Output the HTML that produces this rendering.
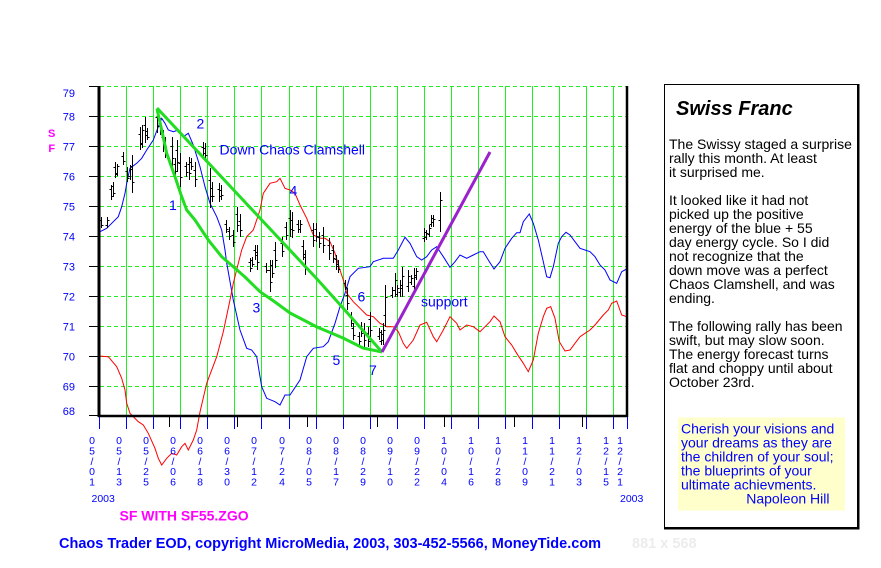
<!DOCTYPE html>
<html><head><meta charset="utf-8"><style>
html,body{margin:0;padding:0;background:#fff;}
svg{display:block;}
text{font-family:"Liberation Sans",Arial,sans-serif;}
</style></head><body>
<svg width="881" height="568" viewBox="0 0 881 568" xmlns="http://www.w3.org/2000/svg">
<rect x="0" y="0" width="881" height="568" fill="#fff"/>
<!-- horizontal dashed grid -->
<g stroke="#22ee22" stroke-width="1" stroke-dasharray="4,3">
<path d="M100 86.5H626M100 116.5H626M100 146.5H626M100 176.5H626M100 206.5H626M100 236.5H626M100 266.5H626M100 296.5H626M100 326.5H626M100 356.5H626M100 386.5H626"/>
</g>
<!-- vertical grid -->
<g stroke="#22ee22" stroke-width="1">
<path d="M126.5 86V415M153.5 86V415M180.5 86V415M207.5 86V415M234.5 86V415M261.5 86V415M289.5 86V415M316.5 86V415M343.5 86V415M370.5 86V415M397.5 86V415M424.5 86V415M451.5 86V415M478.5 86V415M505.5 86V415M532.5 86V415M559.5 86V415M586.5 86V415M613.5 86V415"/>
</g>
<!-- blue energy line -->
<polyline fill="none" stroke="#0000ff" stroke-width="1" points="100,231.7 106.7,228.3 111.7,223.3 118.3,216.7 121.7,206.7 125,193.3 127.3,180 130,168.3 136.7,163.3 141.7,158.3 146.7,150 153.3,140 158.3,126.7 161.7,118.3 165,123.3 168.3,130 173.3,131.7 178.3,130 183.3,136.7 188.3,133.3 193.3,145 200,166.7 205,186.7 210,203.3 216.7,216.7 221.7,230 225,250 226.7,263 233.3,300 240,330 246.7,348.3 251.7,350 256.7,356.7 261.7,386.7 266.7,398.3 275,401.7 280,405 285,395 290,395 300,380 306.7,356.7 313.3,348.3 323.3,346.7 328.3,341.7 335,323.3 340,306.7 345,293.3 350,276.7 358.3,268.3 370,266.7 373.3,261.7 383.3,258.3 393.3,258.3 398.3,250 405,237.3 410,243.3 416.7,256.7 421.7,260 426.7,256.7 431.7,250 436.7,246.7 443.3,256.7 450,267.3 455,261.7 460,255 466.7,258.3 473.3,255 480,251.7 483.3,251.7 488.3,260 494,269 500,261.7 505,248.3 511.7,238.3 516.7,232.7 520,232.7 523.3,221.7 529.3,214 533.3,223.3 538.3,240 543.3,261.7 546.7,276.7 550,277.7 553.3,266.7 558.3,243.3 561.7,236.7 566,232.3 570,235 575,241.7 580,248.3 585,250 590,251.7 595,256.7 600,265 605,270 610,280 616.7,283.3 621.7,271.7 626.7,269"/>
<!-- red line -->
<polyline fill="none" stroke="#ff0000" stroke-width="1" points="98.3,356 108.3,356.7 116.7,366.7 121.7,378.3 125,390 126.7,403.3 130,413.3 138.3,421.7 143.3,425 148.3,433.3 155,448.3 158.3,458.3 161.7,465 166.7,458.3 171.7,453.3 176.7,455 181.7,446.7 185,443.3 188.3,450 193.3,440 196.7,430 200,412 206.7,383.3 216.7,356.7 223.3,331.7 230,300 233.3,283.3 238.3,263.3 241.7,250 246.7,236.7 253.3,230 260,210 263.3,193.3 270,183.3 276.7,181.7 280,178.3 285,188.3 290,190 295,193.3 300,205 306.7,218.3 313.3,235 320,238.3 325,238.3 330,241.7 335,253.3 340,270 343.3,280 346.7,293.3 353.3,301.7 360,308.3 366.7,315 373.3,316.7 380,323.3 386.7,326.7 393.3,326.7 398.3,331.7 403.3,343.3 406.7,348.3 413.3,340 420,325 426.7,322.3 433.3,336.7 436.7,341.7 443.3,330 450,316.7 456.7,323.3 460,330 466.7,325 473.3,326.7 480,331.7 485,326.7 490,321.7 494,316 500,321.7 505,336.7 511.7,345 516.7,353.3 523.3,363.3 528.3,371.7 533.3,360 538.3,333.3 543.3,316.7 546.7,308.3 550.7,306.7 555,318.3 559.3,341.7 565,351 570,350 575,343.3 580,336.7 585,333.3 590,330 595,325 603.3,315 608.3,310 611.7,303.3 616.7,301 621.7,315 626.7,316.7"/>
<!-- price bars -->
<path fill="none" stroke="#000" stroke-width="1" d="
M101.5 217V228M99.5 220.5h2M101.5 225.5h2
M107.5 217V228M105.5 225.5h2M107.5 220.5h2
M111.5 185V200M109.5 189.5h2M111.5 196.5h2
M113.5 182V197M111.5 186.5h2M113.5 193.5h2
M115.5 162V178M113.5 167.5h2M115.5 173.5h2
M117.5 164V176M115.5 174.5h2M117.5 166.5h2
M123.5 152V165M121.5 156.5h2M123.5 161.5h2
M127.5 167V182M125.5 171.5h2M127.5 178.5h2
M130.5 165V180M128.5 176.5h2M130.5 169.5h2
M132.5 155V193M130.5 166.5h2M132.5 182.5h2
M140.5 127V150M138.5 134.5h2M140.5 143.5h2
M142.5 125V148M140.5 144.5h2M142.5 130.5h2
M145.5 117V143M143.5 125.5h2M145.5 135.5h2
M147.5 128V140M145.5 131.5h2M147.5 137.5h2
M157.5 110V133M155.5 117.5h2M157.5 126.5h2
M160.5 118V135M158.5 123.5h2M160.5 130.5h2
M163.5 130V152M161.5 137.5h2M163.5 145.5h2
M165.5 137V158M163.5 143.5h2M165.5 152.5h2
M172.5 137V167M170.5 146.5h2M172.5 158.5h2
M175.5 158V177M173.5 164.5h2M175.5 171.5h2
M177.5 140V172M175.5 150.5h2M177.5 162.5h2
M180.5 153V187M178.5 163.5h2M180.5 177.5h2
M186.5 162V177M184.5 166.5h2M186.5 172.5h2
M189.5 157V180M187.5 164.5h2M189.5 173.5h2
M191.5 158V170M189.5 162.5h2M191.5 166.5h2
M195.5 162V187M193.5 170.5h2M195.5 179.5h2
M203.5 142V158M201.5 147.5h2M203.5 153.5h2
M205.5 143V160M203.5 148.5h2M205.5 155.5h2
M210.5 168V208M208.5 180.5h2M210.5 196.5h2
M212.5 182V202M210.5 188.5h2M212.5 196.5h2
M219.5 183V202M217.5 189.5h2M219.5 196.5h2
M221.5 185V200M219.5 190.5h2M221.5 195.5h2
M226.5 220V233M224.5 224.5h2M226.5 229.5h2
M229.5 227V240M227.5 231.5h2M229.5 236.5h2
M233.5 230V247M231.5 235.5h2M233.5 242.5h2
M237.5 207V232M235.5 214.5h2M237.5 225.5h2
M240.5 214V237M238.5 221.5h2M240.5 230.5h2
M250.5 258V272M248.5 262.5h2M250.5 268.5h2
M252.5 257V267M250.5 260.5h2M252.5 264.5h2
M255.5 245V260M253.5 250.5h2M255.5 255.5h2
M257.5 245V270M255.5 252.5h2M257.5 262.5h2
M266.5 263V273M264.5 266.5h2M266.5 270.5h2
M270.5 260V292M268.5 270.5h2M270.5 282.5h2
M272.5 260V278M270.5 265.5h2M272.5 273.5h2
M275.5 242V268M273.5 250.5h2M275.5 260.5h2
M282.5 237V257M280.5 243.5h2M282.5 251.5h2
M286.5 222V240M284.5 227.5h2M286.5 235.5h2
M290.5 210V237M288.5 218.5h2M290.5 229.5h2
M292.5 212V238M290.5 220.5h2M292.5 230.5h2
M298.5 220V233M296.5 224.5h2M298.5 229.5h2
M300.5 220V233M298.5 229.5h2M300.5 224.5h2
M303.5 240V260M301.5 246.5h2M303.5 254.5h2
M305.5 250V275M303.5 257.5h2M305.5 268.5h2
M313.5 223V247M311.5 230.5h2M313.5 240.5h2
M316.5 223V242M314.5 229.5h2M316.5 236.5h2
M319.5 232V248M317.5 237.5h2M319.5 243.5h2
M323.5 227V253M321.5 235.5h2M323.5 245.5h2
M329.5 238V260M327.5 245.5h2M329.5 253.5h2
M333.5 245V263M331.5 250.5h2M333.5 258.5h2
M336.5 255V270M334.5 259.5h2M336.5 266.5h2
M338.5 260V273M336.5 264.5h2M338.5 269.5h2
M345.5 280V290M343.5 283.5h2M345.5 287.5h2
M347.5 288V310M345.5 295.5h2M347.5 303.5h2
M351.5 312V327M349.5 316.5h2M351.5 323.5h2
M353.5 323V340M351.5 328.5h2M353.5 335.5h2
M359.5 332V345M357.5 336.5h2M359.5 341.5h2
M361.5 322V337M359.5 326.5h2M361.5 333.5h2
M364.5 323V347M362.5 330.5h2M364.5 340.5h2
M368.5 327V347M366.5 333.5h2M368.5 341.5h2
M370.5 312V337M368.5 319.5h2M370.5 330.5h2
M379.5 328V340M377.5 336.5h2M379.5 332.5h2
M381.5 330V345M379.5 341.5h2M381.5 334.5h2
M383.5 323V345M381.5 340.5h2M383.5 330.5h2
M385.5 285V327M383.5 315.5h2M385.5 297.5h2
M392.5 287V298M390.5 295.5h2M392.5 290.5h2
M395.5 273V297M393.5 290.5h2M395.5 280.5h2
M397.5 285V297M395.5 294.5h2M397.5 288.5h2
M400.5 280V297M398.5 292.5h2M400.5 285.5h2
M402.5 267V297M400.5 288.5h2M402.5 276.5h2
M408.5 270V292M406.5 286.5h2M408.5 276.5h2
M411.5 275V285M409.5 282.5h2M411.5 278.5h2
M414.5 268V293M412.5 286.5h2M414.5 275.5h2
M416.5 268V280M414.5 277.5h2M416.5 271.5h2
M424.5 228V242M422.5 238.5h2M424.5 232.5h2
M426.5 230V240M424.5 237.5h2M426.5 233.5h2
M429.5 225V237M427.5 234.5h2M429.5 228.5h2
M431.5 215V227M429.5 224.5h2M431.5 218.5h2
M433.5 215V227M431.5 222.5h2M433.5 219.5h2
M440.5 192V232M438.5 220.5h2M440.5 200.5h2"/>
<!-- clamshell lines -->
<polyline fill="none" stroke="#22dd22" stroke-width="3" stroke-linejoin="round" points="157,108 258,216 317,279 343,308 382,352"/>
<polyline fill="none" stroke="#22dd22" stroke-width="3" stroke-linejoin="round" points="157,109 161.7,130 166.7,153.3 175,176.7 181.7,196.7 186.7,210 195,220 208.3,240 221.7,256.7 233.3,266.7 245,277 260,291.7 275,302 290,313 317,327 343,338 363,348 382,352"/>
<line x1="382" y1="352" x2="490" y2="152" stroke="#9922cc" stroke-width="3"/>
<!-- axes -->
<g stroke="#000" fill="none">
<path d="M99 86V417" stroke-width="3"/>
<path d="M98 416H628" stroke-width="2.5"/>
<path d="M627 86V417" stroke-width="2.5"/>
<path stroke-width="1" d="M89 86.5H99M89 116.5H99M89 146.5H99M89 176.5H99M89 206.5H99M89 236.5H99M89 266.5H99M89 296.5H99M89 326.5H99M89 356.5H99M89 386.5H99M89 415.5H99"/>
<path stroke-width="1" d="M169.5 417V427M237.5 417V427M307.5 417V427M377.5 417V427M444.5 417V427M514.5 417V427M582.5 417V427"/>
</g>
<path stroke="#0000ff" stroke-width="1" fill="none" d="M99.5 417V429M126.5 417V429M153.5 417V429M180.5 417V429M207.5 417V429M234.5 417V429M261.5 417V429M289.5 417V429M316.5 417V429M343.5 417V429M370.5 417V429M397.5 417V429M424.5 417V429M451.5 417V429M478.5 417V429M505.5 417V429M532.5 417V429M559.5 417V429M586.5 417V429M613.5 417V429M627.5 417V429"/>
<!-- y labels -->
<g fill="#0000ff" font-size="11" text-anchor="end">
<text x="75" y="97">79</text>
<text x="75" y="120.5">78</text>
<text x="75" y="150.5">77</text>
<text x="75" y="180.5">76</text>
<text x="75" y="210.5">75</text>
<text x="75" y="240.5">74</text>
<text x="75" y="270.5">73</text>
<text x="75" y="300.5">72</text>
<text x="75" y="330.5">71</text>
<text x="75" y="360.5">70</text>
<text x="75" y="390.5">69</text>
<text x="75" y="415">68</text>
</g>
<g fill="#ff00ff" font-size="11" font-weight="bold" text-anchor="middle">
<text x="51.7" y="137">S</text>
<text x="51.7" y="152">F</text>
</g>
<!-- x labels -->
<g fill="#0000ff" font-size="10.5" text-anchor="middle">
<text x="92" y="444">0</text><text x="92" y="454.4">5</text><text x="92" y="464.8">/</text><text x="92" y="475.2">0</text><text x="92" y="485.6">1</text>
<text x="119" y="444">0</text><text x="119" y="454.4">5</text><text x="119" y="464.8">/</text><text x="119" y="475.2">1</text><text x="119" y="485.6">3</text>
<text x="146" y="444">0</text><text x="146" y="454.4">5</text><text x="146" y="464.8">/</text><text x="146" y="475.2">2</text><text x="146" y="485.6">5</text>
<text x="173" y="444">0</text><text x="173" y="454.4">6</text><text x="173" y="464.8">/</text><text x="173" y="475.2">0</text><text x="173" y="485.6">6</text>
<text x="200" y="444">0</text><text x="200" y="454.4">6</text><text x="200" y="464.8">/</text><text x="200" y="475.2">1</text><text x="200" y="485.6">8</text>
<text x="227" y="444">0</text><text x="227" y="454.4">6</text><text x="227" y="464.8">/</text><text x="227" y="475.2">3</text><text x="227" y="485.6">0</text>
<text x="254" y="444">0</text><text x="254" y="454.4">7</text><text x="254" y="464.8">/</text><text x="254" y="475.2">1</text><text x="254" y="485.6">2</text>
<text x="282" y="444">0</text><text x="282" y="454.4">7</text><text x="282" y="464.8">/</text><text x="282" y="475.2">2</text><text x="282" y="485.6">4</text>
<text x="309" y="444">0</text><text x="309" y="454.4">8</text><text x="309" y="464.8">/</text><text x="309" y="475.2">0</text><text x="309" y="485.6">5</text>
<text x="336" y="444">0</text><text x="336" y="454.4">8</text><text x="336" y="464.8">/</text><text x="336" y="475.2">1</text><text x="336" y="485.6">7</text>
<text x="363" y="444">0</text><text x="363" y="454.4">8</text><text x="363" y="464.8">/</text><text x="363" y="475.2">2</text><text x="363" y="485.6">9</text>
<text x="390" y="444">0</text><text x="390" y="454.4">9</text><text x="390" y="464.8">/</text><text x="390" y="475.2">1</text><text x="390" y="485.6">0</text>
<text x="417" y="444">0</text><text x="417" y="454.4">9</text><text x="417" y="464.8">/</text><text x="417" y="475.2">2</text><text x="417" y="485.6">2</text>
<text x="444" y="444">1</text><text x="444" y="454.4">0</text><text x="444" y="464.8">/</text><text x="444" y="475.2">0</text><text x="444" y="485.6">4</text>
<text x="471" y="444">1</text><text x="471" y="454.4">0</text><text x="471" y="464.8">/</text><text x="471" y="475.2">1</text><text x="471" y="485.6">6</text>
<text x="498" y="444">1</text><text x="498" y="454.4">0</text><text x="498" y="464.8">/</text><text x="498" y="475.2">2</text><text x="498" y="485.6">8</text>
<text x="525" y="444">1</text><text x="525" y="454.4">1</text><text x="525" y="464.8">/</text><text x="525" y="475.2">0</text><text x="525" y="485.6">9</text>
<text x="552" y="444">1</text><text x="552" y="454.4">1</text><text x="552" y="464.8">/</text><text x="552" y="475.2">2</text><text x="552" y="485.6">1</text>
<text x="579" y="444">1</text><text x="579" y="454.4">2</text><text x="579" y="464.8">/</text><text x="579" y="475.2">0</text><text x="579" y="485.6">3</text>
<text x="606" y="444">1</text><text x="606" y="454.4">2</text><text x="606" y="464.8">/</text><text x="606" y="475.2">1</text><text x="606" y="485.6">5</text>
<text x="620" y="444">1</text><text x="620" y="454.4">2</text><text x="620" y="464.8">/</text><text x="620" y="475.2">2</text><text x="620" y="485.6">1</text>
</g>
<g fill="#0000ff" font-size="10.5">
<text x="91.5" y="502">2003</text>
<text x="620" y="502">2003</text>
</g>
<text x="119.5" y="520.7" fill="#ff00ff" font-size="14" font-weight="bold">SF WITH SF55.ZGO</text>
<text x="59" y="548" fill="#0000ff" font-size="14.5" font-weight="bold">Chaos Trader EOD, copyright MicroMedia, 2003, 303-452-5566, MoneyTide.com</text>
<text x="632" y="548" fill="#ececec" font-size="14.5" font-weight="bold">881 x 568</text>
<!-- chart annotations -->
<g fill="#0000ff" font-size="14">
<text x="196.5" y="128.7">2</text>
<text x="219.5" y="154.7">Down Chaos Clamshell</text>
<text x="169" y="210">1</text>
<text x="289.5" y="195.5">4</text>
<text x="252.5" y="312.7">3</text>
<text x="357.5" y="301.7">6</text>
<text x="421" y="306.5">support</text>
<text x="332.5" y="365">5</text>
<text x="369" y="375">7</text>
</g>
<!-- right panel -->
<rect x="664.5" y="84.5" width="193" height="443" fill="#fff" stroke="#000" stroke-width="1"/>
<path d="M858.5 84V529.5M664 528.5H859.5" stroke="#000" stroke-width="2" fill="none"/>
<text x="676" y="115" font-size="20" font-weight="bold" font-style="italic" fill="#000">Swiss Franc</text>
<g fill="#000" font-size="14">
<text x="669" y="149">The Swissy staged a surprise</text>
<text x="669" y="163">rally this month. At least</text>
<text x="669" y="177">it surprised me.</text>
<text x="669" y="205">It looked like it had not</text>
<text x="669" y="219">picked up the positive</text>
<text x="669" y="233">energy of the blue + 55</text>
<text x="669" y="247">day energy cycle. So I did</text>
<text x="669" y="261">not recognize that the</text>
<text x="669" y="275">down move was a perfect</text>
<text x="669" y="289">Chaos Clamshell, and was</text>
<text x="669" y="303">ending.</text>
<text x="669" y="331">The following rally has been</text>
<text x="669" y="345">swift, but may slow soon.</text>
<text x="669" y="359">The energy forecast turns</text>
<text x="669" y="373">flat and choppy until about</text>
<text x="669" y="387">October 23rd.</text>
</g>
<rect x="678" y="417.5" width="167" height="93" fill="#ffffcc"/>
<g fill="#0000ff" font-size="14">
<text x="681" y="433.3">Cherish your visions and</text>
<text x="681" y="447.3">your dreams as they are</text>
<text x="681" y="461.3">the children of your soul;</text>
<text x="681" y="475.3">the blueprints of your</text>
<text x="681" y="489.3">ultimate achievments.</text>
<text x="829.5" y="503.3" text-anchor="end">Napoleon Hill</text>
</g>
</svg>
</body></html>
